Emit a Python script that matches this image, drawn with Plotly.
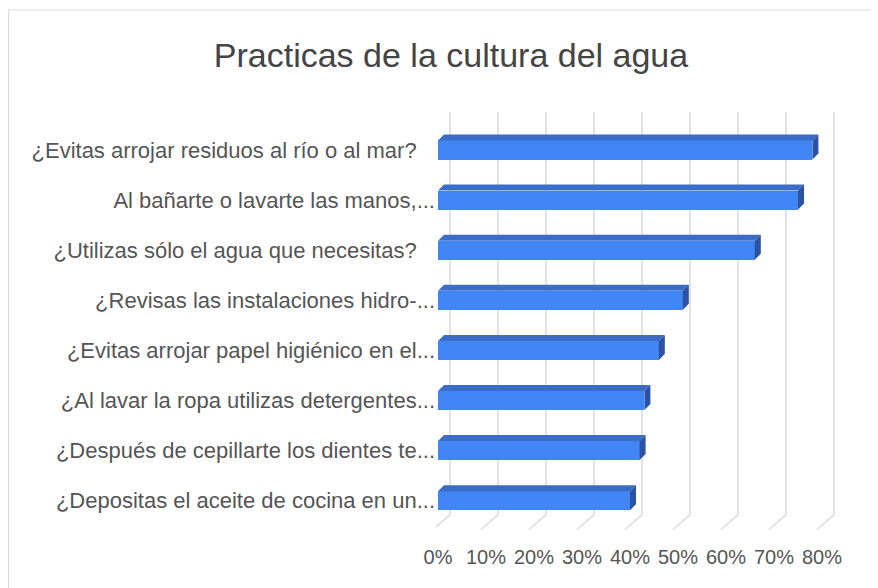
import plotly.graph_objects as go

title = "Practicas de la cultura del agua"
categories = [
    "¿Evitas arrojar residuos al río o al mar?\u00a0\u00a0\u00a0",
    "Al bañarte o lavarte las manos,...",
    "¿Utilizas sólo el agua que necesitas?\u00a0\u00a0\u00a0",
    "¿Revisas las instalaciones hidro-...",
    "¿Evitas arrojar papel higiénico en el...",
    "¿Al lavar la ropa utilizas detergentes...",
    "¿Después de cepillarte los dientes te...",
    "¿Depositas el aceite de cocina en un...",
]
values = [0.78, 0.75, 0.66, 0.51, 0.46, 0.43, 0.42, 0.40]
tick_vals = [0, 0.1, 0.2, 0.3, 0.4, 0.5, 0.6, 0.7, 0.8]
tick_text = ["0%", "10%", "20%", "30%", "40%", "50%", "60%", "70%", "80%"]

# page has an 8px body margin; figure coordinates are window coords minus 8
OFF = 8
W, H = 870, 580
L, T = 436 - OFF, 112 - OFF
Rpx, Bpx = 845 - OFF, 532 - OFF
R, B = W - Rpx, H - Bpx
pw, ph = Rpx - L, Bpx - T
xscale = 480.0
x0 = -2 / xscale
x1 = x0 + pw / xscale
yscale = 50.1
ytop = -(150 - 112) / yscale
ybot = ytop + ph / yscale

ypos = list(range(len(categories)))
bw = 0.38
dx = 6 / xscale
dy = 6 / yscale

front = "#4285F4"
topc = "#3a6cc8"
sidec = "#2b52a3"

fig = go.Figure()
fig.add_trace(go.Bar(
    y=ypos, x=values, orientation="h", width=bw,
    marker=dict(color=front, line=dict(width=0)),
    hoverinfo="x+y",
))

shapes = []
gfront = 0.011
gback = 0.025
yback = 7 + (515 - 501) / yscale
yfront = 7 + (530 - 501) / yscale
for v in tick_vals:
    shapes.append(dict(type="line", xref="x", yref="y", x0=v + gback, x1=v + gback,
                       y0=yback, y1=ytop, line=dict(color="#d9d9d9", width=1.5), layer="below"))
    shapes.append(dict(type="line", xref="x", yref="y", x0=v - gfront, x1=v + gback,
                       y0=yfront, y1=yback, line=dict(color="#d9d9d9", width=1.5), layer="below"))

for yi, v in zip(ypos, values):
    yt = yi - bw / 2
    yb = yi + bw / 2
    top_path = f"M 0,{yt} L {v},{yt} L {v+dx},{yt-dy} L {dx},{yt-dy} Z"
    side_path = f"M {v},{yt} L {v},{yb} L {v+dx},{yb-dy} L {v+dx},{yt-dy} Z"
    shapes.append(dict(type="path", xref="x", yref="y", path=top_path,
                       fillcolor=topc, line=dict(width=0), layer="above"))
    shapes.append(dict(type="path", xref="x", yref="y", path=side_path,
                       fillcolor=sidec, line=dict(width=0), layer="above"))

# outer border (window x=8, y=10)
shapes.append(dict(type="rect", xref="paper", yref="paper",
                   x0=(8 - OFF + 0.5 - L) / pw, x1=(W + 20 - L) / pw,
                   y0=-(H + 20 - Bpx) / ph, y1=(Bpx - (10 - OFF)) / ph,
                   line=dict(color="#d9d9d9", width=1.2), fillcolor="rgba(0,0,0,0)", layer="below"))

fig.update_layout(
    width=W, height=H,
    margin=dict(l=L, r=R, t=T, b=B, autoexpand=False),
    paper_bgcolor="white", plot_bgcolor="white",
    showlegend=False,
    font=dict(family="Liberation Sans, Arial, sans-serif", color="#555555"),
    title=dict(text=title, xref="container", yref="container",
               x=(451 - OFF) / W, y=1 - (55 - OFF) / H, xanchor="center", yanchor="middle",
               font=dict(size=34, color="#444444", family="Liberation Sans, Arial, sans-serif")),
    shapes=shapes,
    bargap=0,
)
fig.update_xaxes(range=[x0, x1], tickvals=tick_vals, ticktext=tick_text,
                 showgrid=False, zeroline=False, showline=False,
                 tickfont=dict(size=20, color="#555555"), ticks="", ticklabelstandoff=11)
fig.update_yaxes(range=[ybot, ytop], tickvals=ypos, ticktext=categories,
                 showgrid=False, zeroline=False, showline=False,
                 tickfont=dict(size=22, color="#555555"), ticks="")

fig.write_html("out.html")
